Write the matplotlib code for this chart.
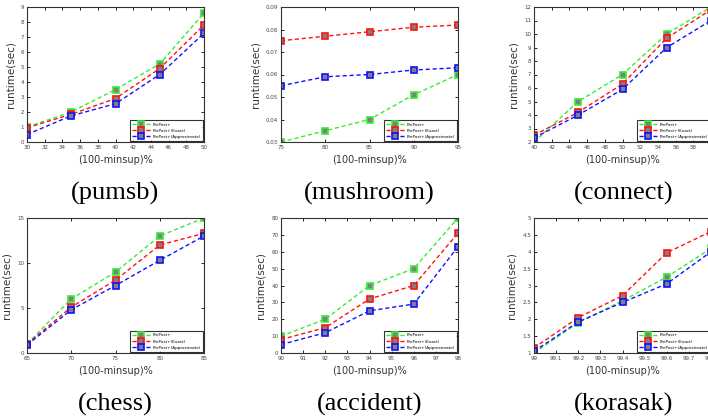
import numpy as np
import matplotlib.pyplot as plt

labels = ["PrePost+", "PrePost+(Exact)", "PrePost+(Approximate)"]
colors = ["#33ee33", "#ff1111", "#1111ff"]

# pumsb
pumsb_x = [30, 35, 40, 45, 50]
pumsb_plus = [1.0, 2.0, 3.5, 5.2, 8.6]
pumsb_exact = [0.95, 1.85, 2.9, 4.9, 7.8]
pumsb_approx = [0.5, 1.75, 2.55, 4.5, 7.25]

# mushroom
mush_x = [75, 80, 85, 90, 95]
mush_plus = [0.030, 0.035, 0.040, 0.051, 0.060]
mush_exact = [0.075, 0.077, 0.079, 0.081, 0.082]
mush_approx = [0.055, 0.059, 0.060, 0.062, 0.063]

# connect
conn_x = [40, 45, 50, 55, 60]
conn_plus = [2.0, 5.0, 7.0, 10.0, 12.0]
conn_exact = [2.5, 4.2, 6.3, 9.7, 11.8]
conn_approx = [2.3, 4.0, 5.9, 9.0, 11.0]

# chess
chess_x = [65, 70, 75, 80, 85]
chess_plus = [1.0, 6.0, 9.0, 13.0, 15.0]
chess_exact = [1.0, 5.1, 8.1, 12.0, 13.3]
chess_approx = [0.9, 4.8, 7.5, 10.3, 13.0]

# accident
acc_x = [90, 92, 94, 96, 98]
acc_plus = [10, 20, 40, 50, 80]
acc_exact = [8, 15, 32, 40, 71]
acc_approx = [5, 12, 25, 29, 63]

# korasak
kor_x = [99.0, 99.2, 99.4, 99.6, 99.8]
kor_plus = [1.0, 1.9, 2.55, 3.25, 4.1]
kor_exact = [1.15, 2.05, 2.7, 3.97, 4.6]
kor_approx = [1.05, 1.92, 2.5, 3.05, 4.0]

panels = [
    ("(pumsb)", pumsb_x, [pumsb_plus, pumsb_exact, pumsb_approx],
     (30, 50), np.arange(30, 51, 2), (0, 9), np.arange(0, 10, 1), "{:g}"),
    ("(mushroom)", mush_x, [mush_plus, mush_exact, mush_approx],
     (75, 95), np.arange(75, 96, 5), (0.03, 0.09), np.arange(0.03, 0.0901, 0.01), "{:.2f}"),
    ("(connect)", conn_x, [conn_plus, conn_exact, conn_approx],
     (40, 60), np.arange(40, 61, 2), (2, 12), np.arange(2, 13, 1), "{:g}"),
    ("(chess)", chess_x, [chess_plus, chess_exact, chess_approx],
     (65, 85), np.arange(65, 86, 5), (0, 15), np.arange(0, 16, 5), "{:g}"),
    ("(accident)", acc_x, [acc_plus, acc_exact, acc_approx],
     (90, 98), np.arange(90, 99, 1), (0, 80), np.arange(0, 81, 10), "{:g}"),
    ("(korasak)", kor_x, [kor_plus, kor_exact, kor_approx],
     (99, 99.8), np.round(np.arange(99, 99.81, 0.1), 1), (1, 5), np.arange(1, 5.01, 0.5), "{:g}"),
]

W, H = 708, 417
fig = plt.figure(figsize=(W / 100, H / 100), dpi=100)

lefts = [27, 281, 534]
tops = [7, 218]
aw, ah = 177, 135

for i, (name, xs, series, xlim, xt, ylim, yt, fmt) in enumerate(panels):
    r, c = divmod(i, 3)
    ax = fig.add_axes([lefts[c] / W, 1 - (tops[r] + ah) / H, aw / W, ah / H])
    for ys, lab, col in zip(series, labels, colors):
        ax.plot(xs, ys, linestyle=(0, (3, 2)), color=col, linewidth=1.0,
                marker="s", markersize=4.5, markerfacecolor="#808080",
                markeredgecolor=col, markeredgewidth=1.2, label=lab)
    ax.set_xlim(xlim)
    ax.set_ylim(ylim)
    ax.set_xticks(xt)
    ax.set_xticklabels([f"{v:g}" for v in xt])
    ax.set_yticks(yt)
    ax.set_yticklabels([fmt.format(v) for v in yt])
    ax.tick_params(direction="in", top=True, right=True, length=2, width=0.6,
                   labelsize=4, labelcolor="#444444", pad=2)
    for s in ax.spines.values():
        s.set_linewidth(0.8)
        s.set_color("#333333")
    ax.set_ylabel("runtime(sec)", fontsize=7.5, color="#333333", labelpad=4)
    ax.set_xlabel("(100-minsup)%", fontsize=7, color="#333333", labelpad=4)
    leg = ax.legend(loc="lower right", fontsize=3.0, frameon=True, fancybox=False,
                    borderpad=0.5, handlelength=4.5, labelspacing=0.5,
                    borderaxespad=0.3, handletextpad=0.4)
    leg.get_frame().set_edgecolor("black")
    leg.get_frame().set_linewidth(0.8)
    cx = (lefts[c] + aw / 2) / W
    if c == 2:
        cx = (lefts[c] + 90) / W
    cy = 1 - (tops[r] + 186) / H
    fig.text(cx, cy, name, ha="center", va="center", fontsize=19,
             family="Liberation Serif")

fig.savefig("out.png", dpi=100)
